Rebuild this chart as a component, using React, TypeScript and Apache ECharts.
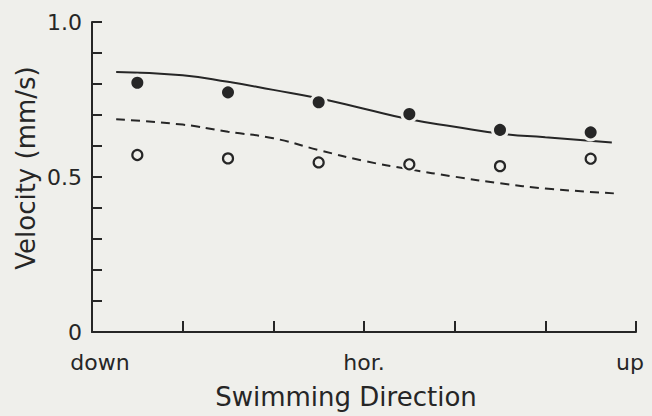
import React, { useEffect, useRef } from "react";
import * as echarts from "echarts";

const dotAngles = [-75, -45, -15, 15, 45, 75];
const filledValues = [0.804, 0.773, 0.741, 0.703, 0.652, 0.644];
const openValues = [0.571, 0.56, 0.547, 0.541, 0.535, 0.559];

const solidAngles = [-82, -60, -45, -30, -15, 0, 15, 30, 45, 60, 82];
const solidValues = [0.839, 0.828, 0.807, 0.781, 0.754, 0.72, 0.686, 0.662, 0.64, 0.628, 0.611];

const dashedAngles = [-82, -60, -45, -30, -15, 0, 15, 30, 45, 60, 83];
const dashedValues = [0.686, 0.669, 0.646, 0.625, 0.587, 0.552, 0.525, 0.501, 0.48, 0.463, 0.447];

const xTickLabels: Record<number, string> = { [-90]: "{l|down}", 0: "hor.", 90: "{r|up}" };
const yTickLabels: Record<string, string> = { "0": "0", "0.5": "0.5", "1": "1.0" };

const BG = "#efefeb";
const INK = "#262626";
const FONT = "'DejaVu Sans', 'Open Sans', sans-serif";
const TICK_SIZE = 22;
const TITLE_SIZE = 26;

export default function App() {
  const ref = useRef<HTMLDivElement>(null);
  useEffect(() => {
    document.body.style.margin = "0";
    document.body.style.background = BG;
    const chart = echarts.init(ref.current!, null, { renderer: "svg" });
    const zip = (xs: number[], ys: number[]) => xs.map((x, i) => [x, ys[i]]);
    const labelStyle = { fontFamily: FONT, fontSize: TICK_SIZE, color: INK };
    chart.setOption({
      animation: false,
      backgroundColor: BG,
      grid: { left: 92, right: 16, top: 22, bottom: 84 },
      graphic: [
        {
          type: "text",
          x: 26,
          y: 168,
          rotation: Math.PI / 2,
          style: {
            text: "Velocity (mm/s)",
            fontFamily: FONT,
            fontSize: TITLE_SIZE,
            fill: INK,
            align: "center",
            verticalAlign: "middle",
          },
        },
      ],
      xAxis: {
        type: "value",
        min: -90,
        max: 90,
        interval: 30,
        name: "Swimming Direction",
        nameLocation: "middle",
        nameGap: 52,
        nameTextStyle: {
          fontFamily: FONT,
          fontSize: TITLE_SIZE,
          color: INK,
          padding: [0, 36, 0, 0],
        },
        axisLine: { onZero: false, lineStyle: { color: INK, width: 2 } },
        axisTick: { inside: true, length: 11, lineStyle: { color: INK, width: 2 } },
        axisLabel: {
          ...labelStyle,
          showMinLabel: true,
          showMaxLabel: true,
          margin: 19,
          formatter: (v: number) => xTickLabels[Math.round(v)] ?? "",
          rich: {
            l: { ...labelStyle, padding: [0, 0, 0, 16] },
            r: { ...labelStyle, padding: [0, 12, 0, 0] },
          },
        },
        splitLine: { show: false },
      },
      yAxis: {
        type: "value",
        min: 0,
        max: 1,
        interval: 0.1,
        axisLine: { onZero: false, lineStyle: { color: INK, width: 2 } },
        axisTick: { inside: true, length: 10, lineStyle: { color: INK, width: 2 } },
        axisLabel: {
          ...labelStyle,
          showMinLabel: true,
          showMaxLabel: true,
          margin: 10,
          formatter: (v: number) => yTickLabels[String(Math.round(v * 10) / 10)] ?? "",
        },
        splitLine: { show: false },
      },
      series: [
        {
          type: "line",
          data: zip(solidAngles, solidValues),
          smooth: true,
          symbol: "none",
          lineStyle: { color: INK, width: 2 },
          z: 2,
        },
        {
          type: "line",
          data: zip(dashedAngles, dashedValues),
          smooth: true,
          symbol: "none",
          lineStyle: { color: INK, width: 2, type: [9, 6] },
          z: 2,
        },
        {
          type: "scatter",
          data: zip(dotAngles, filledValues),
          symbol: "circle",
          symbolSize: 15,
          itemStyle: { color: INK, borderColor: BG, borderWidth: 3, opacity: 1 },
          z: 3,
        },
        {
          type: "scatter",
          data: zip(dotAngles, openValues),
          symbol: "circle",
          symbolSize: 16,
          itemStyle: { color: BG, opacity: 1 },
          z: 3,
        },
        {
          type: "scatter",
          data: zip(dotAngles, openValues),
          symbol: "circle",
          symbolSize: 10,
          itemStyle: { color: BG, borderColor: INK, borderWidth: 2.2, opacity: 1 },
          z: 4,
        },
      ],
    });
    return () => chart.dispose();
  }, []);
  return <div ref={ref} style={{ width: 652, height: 416 }} />;
}
